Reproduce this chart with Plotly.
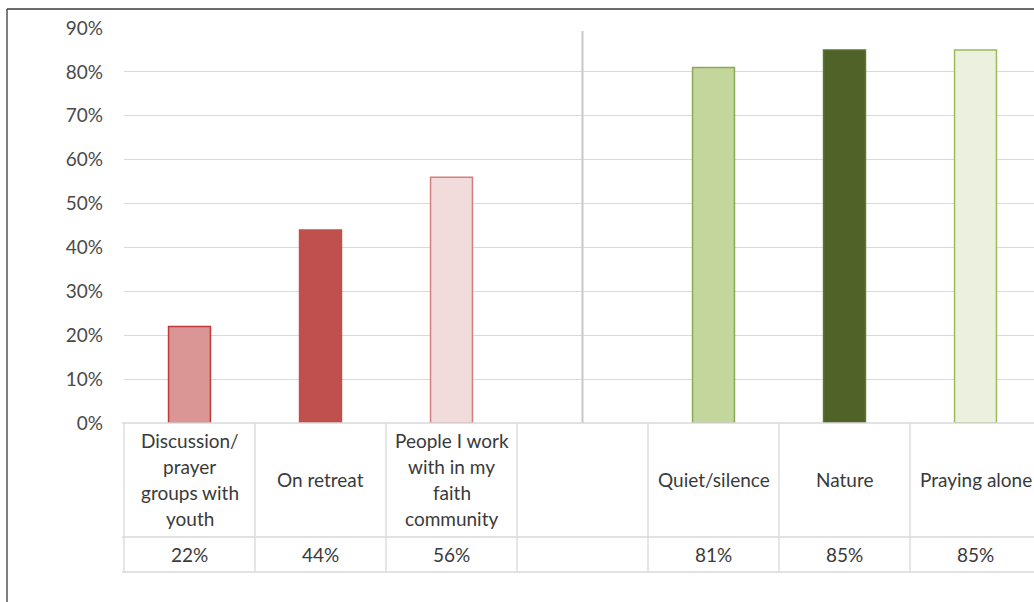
import plotly.graph_objects as go

# Survey shares shown as columns, with a data table underneath
categories = ["Discussion/\nprayer\ngroups with\nyouth", "On retreat",
              "People I work\nwith in my\nfaith\ncommunity",
              "Quiet/silence", "Nature", "Praying alone"]
values = [0.22, 0.44, 0.56, 0.81, 0.85, 0.85]
value_labels = ["22%", "44%", "56%", "81%", "85%", "85%"]
slots = [0, 1, 2, 4, 5, 6]          # slot 3 is left empty as a divider
fill_colors = ["#d99694", "#c0504d", "#f2dcdb", "#c3d69b", "#4f6228", "#ebf1de"]
line_colors = ["#c0393b", "#c0504d", "#d47f7d", "#8aa85a", "#5f7530", "#9bbb59"]
y_ticks = [0, 0.1, 0.2, 0.3, 0.4, 0.5, 0.6, 0.7, 0.8, 0.9]

W, H = 1034, 602
L, T, B = 124, 28, 179
plot_w, plot_h = W - L, H - T - B
slot_px = 131.0
x_lo = -0.5
x_hi = x_lo + plot_w / slot_px

FONT = "Lato"
FSIZE = 19
TXT = "#3a3a3a"
GRID = "#d9d9d9"


def px_x(p):
    return (p - L) / plot_w


def px_y(p):
    return (H - B - p) / plot_h


def slot_x(v):
    return (v - x_lo) / (x_hi - x_lo)


fig = go.Figure(go.Bar(
    x=slots, y=values, width=0.32,
    marker=dict(color=fill_colors, line=dict(color=line_colors, width=1.5)),
    hoverinfo="skip",
))

shapes = []
# divider between the two groups
shapes.append(dict(type="line", xref="x", yref="y", x0=3, x1=3, y0=0, y1=0.893,
                   line=dict(color="#c8c8c8", width=2)))

# data table grid
tbl_top, tbl_mid, tbl_bot = 423, 537, 572
for k in range(7):
    xb = slot_x(x_lo + k)
    shapes.append(dict(type="line", xref="paper", yref="paper", x0=xb, x1=xb,
                       y0=px_y(tbl_top), y1=px_y(tbl_bot),
                       line=dict(color=GRID, width=1.3)))
for yy in (tbl_top, tbl_mid, tbl_bot):
    shapes.append(dict(type="line", xref="paper", yref="paper",
                       x0=px_x(122), x1=1.0, y0=px_y(yy), y1=px_y(yy),
                       line=dict(color=GRID, width=1.5)))

# outer frame
shapes.append(dict(type="line", xref="paper", yref="paper",
                   x0=px_x(7), x1=1.0, y0=px_y(9), y1=px_y(9),
                   line=dict(color="#3a3a3a", width=1.3)))
shapes.append(dict(type="line", xref="paper", yref="paper",
                   x0=px_x(7), x1=px_x(7), y0=px_y(9), y1=px_y(602),
                   line=dict(color="#3a3a3a", width=1.3)))

annotations = []
line_h = 26.3
row_center = 479.5
for s, name, lab in zip(slots, categories, value_labels):
    lines = name.split("\n")
    n = len(lines)
    for i, ln in enumerate(lines):
        cy = row_center + (i - (n - 1) / 2) * line_h
        annotations.append(dict(x=s, xref="x", y=px_y(cy), yref="paper",
                                text=ln, showarrow=False, xanchor="center",
                                yanchor="middle",
                                font=dict(family=FONT, size=FSIZE, color=TXT)))
    annotations.append(dict(x=s, xref="x", y=px_y(554.5), yref="paper",
                            text=lab, showarrow=False, xanchor="center",
                            yanchor="middle",
                            font=dict(family=FONT, size=FSIZE, color=TXT)))

fig.update_layout(
    width=W, height=H,
    margin=dict(l=L, r=0, t=T, b=B, pad=0),
    paper_bgcolor="white", plot_bgcolor="white",
    showlegend=False,
    xaxis=dict(range=[x_lo, x_hi], showticklabels=False, showgrid=False,
               zeroline=False, showline=False, ticks=""),
    yaxis=dict(range=[0, 0.9], tickvals=y_ticks, tickformat=".0%",
               showgrid=True, gridcolor=GRID, gridwidth=1.3,
               zeroline=False, showline=False, ticks="",
               ticklabelstandoff=20,
               tickfont=dict(family=FONT, size=FSIZE, color="#4a4a4a")),
    shapes=shapes,
    annotations=annotations,
)

fig.write_html("out.html")
